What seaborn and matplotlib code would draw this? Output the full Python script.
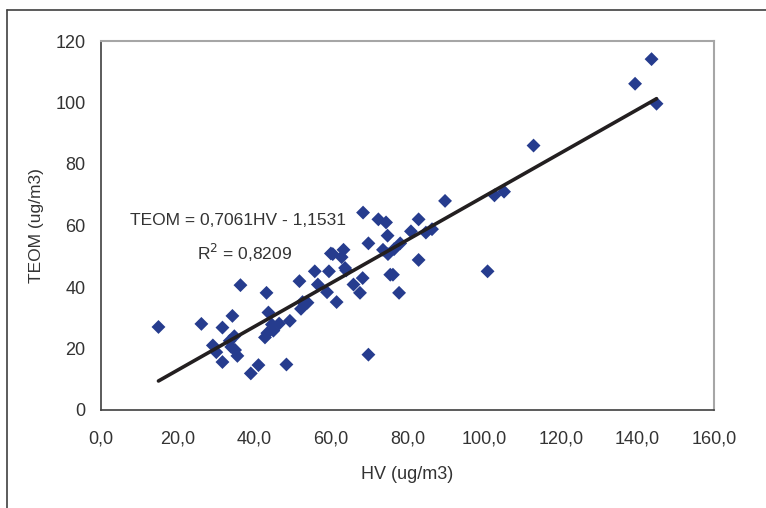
import matplotlib
matplotlib.use("Agg")
import matplotlib.pyplot as plt
import seaborn as sns
import numpy as np
import pandas as pd
from matplotlib.lines import Line2D
from matplotlib import font_manager

hv = [15.0, 26.2, 29.2, 30.1, 31.7, 31.7, 33.6, 34.0, 34.3, 34.8, 35.0, 35.6, 36.4,
      39.1, 41.1, 42.8, 43.2, 43.4, 43.7, 44.6, 45.0, 46.5, 48.4, 49.3, 51.8, 52.2,
      52.6, 53.9, 55.8, 56.6, 59.0, 59.5, 60.0, 60.5, 61.5, 62.8, 63.3, 63.7, 64.0,
      65.9, 67.6, 68.3, 68.4, 69.8, 69.8, 72.4, 73.6, 74.4, 74.8, 74.9, 75.5, 76.2,
      76.5, 77.8, 78.1, 80.9, 82.9, 82.9, 84.8, 86.4, 89.8, 100.9, 102.7, 105.2,
      112.9, 139.4, 143.7, 145.0]
teom = [27.0, 28.0, 21.0, 18.8, 15.6, 26.8, 22.5, 20.5, 30.6, 24.0, 19.5, 17.6, 40.6,
        11.9, 14.6, 23.6, 38.1, 25.0, 31.7, 27.8, 25.8, 28.1, 14.8, 29.0, 41.9, 32.9,
        35.1, 34.9, 45.1, 40.8, 38.3, 45.1, 50.9, 50.7, 35.1, 49.7, 52.1, 46.2, 45.4,
        40.8, 38.1, 42.9, 64.2, 54.2, 18.0, 62.0, 52.1, 61.0, 56.7, 50.7, 44.0, 44.0,
        52.3, 38.1, 54.2, 58.1, 62.0, 48.8, 57.7, 58.8, 68.0, 45.1, 69.8, 71.0,
        86.0, 106.1, 114.1, 99.6]
slope = 0.7061
intercept = -1.1531
r2_text = "0,8209"
x_ticks = [0, 20, 40, 60, 80, 100, 120, 140, 160]
x_tick_labels = ["0,0", "20,0", "40,0", "60,0", "80,0", "100,0", "120,0", "140,0", "160,0"]
y_ticks = [0, 20, 40, 60, 80, 100, 120]
y_tick_labels = ["0", "20", "40", "60", "80", "100", "120"]

sns.set_style("white")
names = {f.name for f in font_manager.fontManager.ttflist}
narrow = "Liberation Sans Narrow" if "Liberation Sans Narrow" in names else "Liberation Sans"
plt.rcParams['font.family'] = ['Liberation Sans', 'DejaVu Sans']

df = pd.DataFrame({"HV": hv, "TEOM": teom})
fit_x = [min(hv), max(hv)]
fit = pd.DataFrame({"HV": fit_x, "TEOM": [slope * v + intercept for v in fit_x]})

fig = plt.figure(figsize=(7.66, 5.08), dpi=100)
ax = fig.add_axes([101/766, 1 - 410/508, (714-101)/766, (410-41)/508])

sns.lineplot(data=fit, x="HV", y="TEOM", ax=ax, color="#231f20", linewidth=2.6, zorder=3)
sns.scatterplot(data=df, x="HV", y="TEOM", ax=ax, marker="D", s=50, color="#263c8e",
                edgecolor="none", linewidth=0, zorder=2)

ax.set_xlim(0, 160)
ax.set_ylim(0, 120)
ax.set_xticks(x_ticks)
ax.set_xticklabels(x_tick_labels, fontfamily=narrow, fontsize=13, color="#333333")
ax.set_yticks(y_ticks)
ax.set_yticklabels(y_tick_labels, fontfamily=narrow, fontsize=13, color="#333333")
ax.tick_params(axis="both", direction="out", length=5, width=1, color="#404040", pad=6)
ax.tick_params(axis="x", pad=10)

ax.set_xlabel("HV (ug/m3)", fontfamily=narrow, fontsize=13, color="#333333", labelpad=13)
ax.set_ylabel("TEOM (ug/m3)", fontfamily="Liberation Sans", fontsize=12.5, color="#333333", labelpad=8)

for s in ["left", "bottom"]:
    ax.spines[s].set_color("#404040")
    ax.spines[s].set_linewidth(1.2)
for s in ["top", "right"]:
    ax.spines[s].set_color("#a6a6a6")
    ax.spines[s].set_linewidth(1.5)

ax.text(7.6, 61.5, "TEOM = 0,7061HV - 1,1531", fontfamily=narrow, fontsize=12.5,
        color="#333333", va="center", ha="left")
ax.text(25.0, 51.2, "R$^2$ = " + r2_text, fontfamily=narrow, fontsize=12.5,
        color="#333333", va="center", ha="left")

fig.add_artist(Line2D([7/766, 7/766], [0, 1 - 10/508], transform=fig.transFigure,
                      color="#404040", linewidth=1.2))
fig.add_artist(Line2D([7/766, 1], [1 - 10/508, 1 - 10/508], transform=fig.transFigure,
                      color="#404040", linewidth=1.2))

fig.savefig("out.png", dpi=100)
